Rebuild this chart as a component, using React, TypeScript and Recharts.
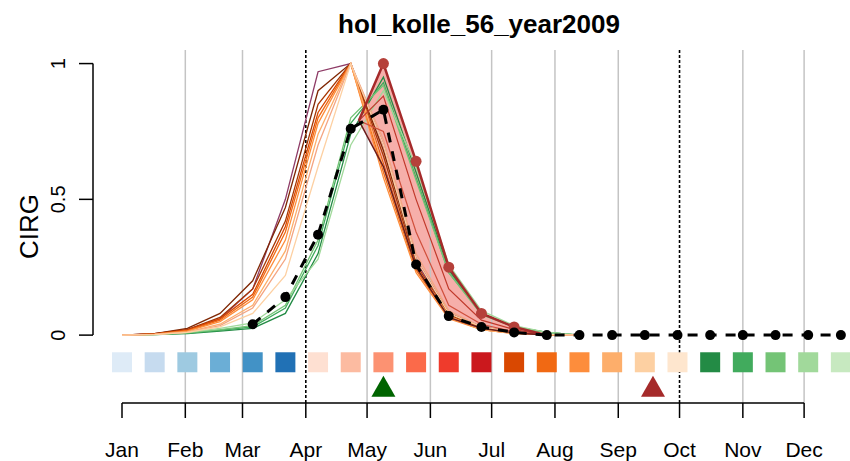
import React from 'react';
import { ComposedChart, Line, Area, Scatter, XAxis, YAxis, ReferenceLine } from 'recharts';

const FONT = '"Liberation Sans", Arial, Helvetica, sans-serif';

// ---- axes / categories ----
const compositeDays = [1, 17, 33, 49, 65, 81, 97, 113, 129, 145, 161, 177, 193, 209, 225, 241, 257, 273, 289, 305, 321, 337, 353];
const monthTicks = [1, 32, 60, 91, 121, 152, 182, 213, 244, 274, 305, 335];
const monthLabels = ['Jan', 'Feb', 'Mar', 'Apr', 'May', 'Jun', 'Jul', 'Aug', 'Sep', 'Oct', 'Nov', 'Dec'];
const gridDays = [32, 60, 121, 152, 182, 213, 244, 305, 335];
const seasonBoundDays = [91, 274];
const yTicks = [0, 0.5, 1];
const yTickLabels = ['0', '0.5', '1'];

// ---- observed CIRG (black, dashed with dots) ----
const observedCirg = [null, null, null, null, 0.04, 0.14, 0.37, 0.76, 0.83, 0.26, 0.07, 0.03, 0.01, 0, 0, 0, 0, 0, 0, 0, 0, 0, 0];

// ---- reference curves (orange family), days 1..225 ----
const refPurple = [0, 0.005, 0.02, 0.06, 0.17, 0.5, 0.97, 1.0, 0.7, 0.27, 0.08, 0.03, 0.01, 0.003, 0];
const refBrown = [0, 0.005, 0.025, 0.08, 0.2, 0.47, 0.9, 1.0, 0.68, 0.28, 0.08, 0.03, 0.01, 0.003, 0];
const refRust = [0, 0.005, 0.02, 0.065, 0.17, 0.42, 0.85, 1.0, 0.66, 0.26, 0.075, 0.025, 0.008, 0.002, 0];
const refDarkOrange = [0, 0.004, 0.018, 0.06, 0.15, 0.4, 0.82, 1.0, 0.63, 0.25, 0.07, 0.025, 0.008, 0.002, 0];
const refOrange = [0, 0.004, 0.016, 0.055, 0.14, 0.38, 0.8, 1.0, 0.6, 0.24, 0.065, 0.02, 0.007, 0.002, 0];
const refMidOrange = [0, 0.004, 0.015, 0.05, 0.13, 0.35, 0.78, 1.0, 0.58, 0.23, 0.06, 0.02, 0.006, 0.002, 0];
const refLightOrange = [0, 0.003, 0.012, 0.04, 0.11, 0.31, 0.74, 1.0, 0.62, 0.25, 0.07, 0.02, 0.006, 0.002, 0];
const refPink = [0, 0.003, 0.01, 0.035, 0.1, 0.28, 0.7, 1.0, 0.72, 0.3, 0.09, 0.03, 0.01, 0.003, 0];
const refPale = [0, 0.002, 0.01, 0.03, 0.08, 0.22, 0.62, 1.0, 0.7, 0.28, 0.08, 0.03, 0.01, 0.003, 0];

// ---- green curves, days 1..225 ----
const greenDark = [0, 0.002, 0.006, 0.015, 0.025, 0.08, 0.3, 0.74, 0.95, 0.6, 0.24, 0.08, 0.03, 0.01, 0];
const greenMid = [0, 0.002, 0.007, 0.018, 0.03, 0.1, 0.33, 0.78, 0.93, 0.58, 0.23, 0.08, 0.03, 0.01, 0];
const greenLight = [0, 0.003, 0.008, 0.02, 0.035, 0.11, 0.35, 0.8, 0.92, 0.57, 0.23, 0.075, 0.03, 0.01, 0];
const greenPale = [0, 0.003, 0.01, 0.025, 0.045, 0.13, 0.28, 0.7, 0.9, 0.62, 0.26, 0.09, 0.035, 0.01, 0];

// ---- shifted envelope (red band) ----
const shiftDays = [117, 129, 145, 161, 177, 193, 209];
const shiftUpper = [0.79, 1.0, 0.64, 0.25, 0.08, 0.03, 0];
const shiftLower = [0.79, 0.62, 0.25, 0.065, 0.025, 0.008, 0];
const shiftInner1 = [0.79, 0.88, 0.5, 0.17, 0.055, 0.02, 0];
const shiftInner2 = [0.79, 0.75, 0.38, 0.11, 0.04, 0.012, 0];
const redDotDays = [129, 145, 161, 177, 193];
const redDotValues = [1.0, 0.64, 0.25, 0.08, 0.03];

// ---- markers ----
const greenMarkerDay = [129];
const redMarkerDay = [261];

// ---- styles (kept separate from data) ----
const squareColors = [
  '#deebf7', '#c6dbef', '#9ecae1', '#6baed6', '#4292c6', '#2171b5',
  '#fee0d2', '#fcbba1', '#fc9272', '#fb6a4a', '#ef3b2c', '#cb181d',
  '#d94801', '#f16913', '#fd8d3c', '#fdae6b', '#fdd0a2', '#fee6ce',
  '#238b45', '#41ab5d', '#74c476', '#a1d99b', '#c7e9c0',
];
const SQUARE_ROW = -0.1;
const MARKER_ROW = -0.19;
const Y_BOTTOM = -0.25;
const Y_AXIS_DAY = -13.2;

const toSeries = (days: number[], vals: (number | null)[]) => vals.map((v, i) => ({ day: days[i], v }));

const orangeSeries = [
  { vals: refPurple, color: '#8e3b66' },
  { vals: refBrown, color: '#7f2704' },
  { vals: refRust, color: '#a63603' },
  { vals: refDarkOrange, color: '#d94801' },
  { vals: refOrange, color: '#f16913' },
  { vals: refMidOrange, color: '#fd8d3c' },
  { vals: refLightOrange, color: '#fdae6b' },
  { vals: refPink, color: '#f4a582' },
  { vals: refPale, color: '#fdd0a2' },
];
const greenSeries = [
  { vals: greenDark, color: '#238b45' },
  { vals: greenMid, color: '#41ab5d' },
  { vals: greenLight, color: '#74c476' },
  { vals: greenPale, color: '#a1d99b' },
];

const bandData = shiftDays.map((d, i) => ({ day: d, v: [shiftLower[i], shiftUpper[i]] }));
const squareData = compositeDays.map((d, i) => ({ day: d, v: SQUARE_ROW, idx: i }));

const SquareShape = (props: any) => {
  const { cx, cy, payload } = props;
  if (cx == null || cy == null) return null;
  return <rect x={cx - 10} y={cy - 10} width={20} height={20} fill={squareColors[payload.idx]} />;
};

const triangle = (color: string) => (props: any) => {
  const { cx, cy } = props;
  if (cx == null || cy == null) return null;
  return <path d={`M${cx},${cy - 11} L${cx + 12},${cy + 10} L${cx - 12},${cy + 10} Z`} fill={color} />;
};

const XTick = (props: any) => {
  const { x, y, payload } = props;
  const i = monthTicks.indexOf(payload.value);
  return (
    <text x={x} y={y + 39} textAnchor="middle" fontSize={21} fontFamily={FONT} fill="#000">
      {monthLabels[i]}
    </text>
  );
};

const YTick = (props: any) => {
  const { x, y, payload } = props;
  const i = yTicks.indexOf(payload.value);
  const tx = x - 57;
  return (
    <g>
      <line x1={x - 43} x2={x - 29} y1={y} y2={y} stroke="#000" strokeWidth={1.5} />
      <text x={tx} y={y} transform={`rotate(-90 ${tx} ${y})`} textAnchor="middle" fontSize={20} fontFamily={FONT} fill="#000">
        {yTickLabels[i]}
      </text>
    </g>
  );
};

export default function App() {
  return (
    <div style={{ position: 'absolute', left: 0, top: 0, width: 850, height: 461, background: '#fff' }}>
      <ComposedChart width={850} height={461} margin={{ top: 50, right: 3, bottom: 0, left: 0 }}>
        <XAxis
          type="number"
          dataKey="day"
          domain={[1, 356]}
          ticks={monthTicks}
          interval={0}
          height={58}
          axisLine={false}
          tickLine={{ stroke: '#000', strokeWidth: 1.5 }}
          tickSize={15}
          tickMargin={0}
          tick={XTick}
        />
        <YAxis
          type="number"
          domain={[Y_BOTTOM, 1.05]}
          ticks={yTicks}
          interval={0}
          width={122}
          axisLine={false}
          tickLine={false}
          tickSize={0}
          tickMargin={0}
          tick={YTick}
        />
        {gridDays.map((d) => (
          <ReferenceLine key={'g' + d} x={d} stroke="#c4c4c4" strokeWidth={1.5} />
        ))}
        {seasonBoundDays.map((d) => (
          <ReferenceLine key={'s' + d} x={d} stroke="#000" strokeWidth={1.6} strokeDasharray="3 2" />
        ))}
        <ReferenceLine
          segment={[{ x: 1, y: Y_BOTTOM }, { x: 335, y: Y_BOTTOM }]}
          stroke="#000"
          strokeWidth={1.5}
          ifOverflow="visible"
        />
        <ReferenceLine
          segment={[{ x: Y_AXIS_DAY, y: 0 }, { x: Y_AXIS_DAY, y: 1 }]}
          stroke="#000"
          strokeWidth={1.5}
          ifOverflow="visible"
        />
        {greenSeries.map((s, k) => (
          <Line
            key={'gr' + k}
            data={toSeries(compositeDays, s.vals)}
            dataKey="v"
            type="linear"
            stroke={s.color}
            strokeWidth={1.3}
            dot={false}
            isAnimationActive={false}
          />
        ))}
        <Area
          data={bandData}
          dataKey="v"
          type="linear"
          stroke="none"
          fill="#f07a72"
          fillOpacity={0.6}
          isAnimationActive={false}
        />
        {orangeSeries.map((s, k) => (
          <Line
            key={'or' + k}
            data={toSeries(compositeDays, s.vals)}
            dataKey="v"
            type="linear"
            stroke={s.color}
            strokeWidth={1.3}
            dot={false}
            isAnimationActive={false}
          />
        ))}
        <Line data={toSeries(shiftDays, shiftInner2)} dataKey="v" type="linear" stroke="#d0503c" strokeWidth={1.2} dot={false} isAnimationActive={false} />
        <Line data={toSeries(shiftDays, shiftInner1)} dataKey="v" type="linear" stroke="#c0392b" strokeWidth={1.2} dot={false} isAnimationActive={false} />
        <Line data={toSeries(shiftDays, shiftLower)} dataKey="v" type="linear" stroke="#6b1c1c" strokeWidth={1.5} dot={false} isAnimationActive={false} />
        <Line data={toSeries(shiftDays, shiftUpper)} dataKey="v" type="linear" stroke="#a52a2a" strokeWidth={2.5} dot={false} isAnimationActive={false} />
        <Scatter
          data={toSeries(redDotDays, redDotValues)}
          dataKey="v"
          fill="#b5403a"
          shape={(p: any) => (p.cx == null ? null : <circle cx={p.cx} cy={p.cy} r={5.5} fill="#b5403a" />)}
          isAnimationActive={false}
        />
        <Line
          data={toSeries(compositeDays, observedCirg)}
          dataKey="v"
          type="linear"
          stroke="#000"
          strokeWidth={3}
          strokeDasharray="10 9"
          dot={{ r: 5, fill: '#000', stroke: '#000', strokeWidth: 0, strokeDasharray: '' }}
          isAnimationActive={false}
        />
        <Scatter data={squareData} dataKey="v" shape={SquareShape} isAnimationActive={false} />
        <Scatter data={greenMarkerDay.map((d) => ({ day: d, v: MARKER_ROW }))} dataKey="v" shape={triangle('#006400')} isAnimationActive={false} />
        <Scatter data={redMarkerDay.map((d) => ({ day: d, v: MARKER_ROW }))} dataKey="v" shape={triangle('#a52a2a')} isAnimationActive={false} />
      </ComposedChart>
      <svg width={850} height={461} style={{ position: 'absolute', left: 0, top: 0, pointerEvents: 'none' }}>
        <text x={479} y={33} textAnchor="middle" fontSize={26} fontWeight="bold" fontFamily={FONT} fill="#000">
          hol_kolle_56_year2009
        </text>
        <text x={38} y={226.5} transform="rotate(-90 38 226.5)" textAnchor="middle" fontSize={26} fontFamily={FONT} fill="#000">
          CIRG
        </text>
      </svg>
    </div>
  );
}
